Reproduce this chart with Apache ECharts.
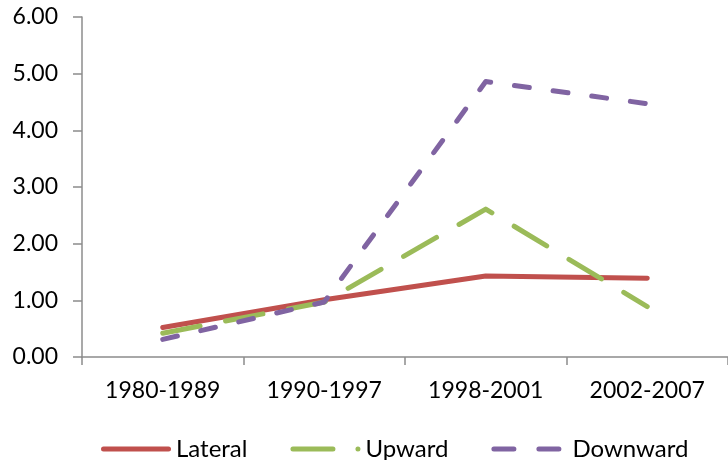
<!DOCTYPE html>
<html>
<head>
<meta charset="utf-8">
<script src="https://cdn.jsdelivr.net/npm/echarts@6/dist/echarts.min.js"></script>
<style>
  html, body { margin: 0; padding: 0; background: #ffffff; }
  #chart { width: 728px; height: 460px; }
</style>
</head>
<body>
<div id="chart"></div>
<script>
// Periods on the category axis
const periods = ['1980-1989', '1990-1997', '1998-2001', '2002-2007'];

// Values per mobility direction
const lateral  = [0.52, 1.01, 1.43, 1.39];
const upward   = [0.42, 0.97, 2.61, 0.89];
const downward = [0.31, 0.97, 4.86, 4.47];

// Value axis ticks
const yMin = 0;
const yMax = 6;
const yStep = 1;

const FONT = 'Lato';
const AXIS_GRAY = '#8c8c8c';

const COLORS = {
  Lateral: '#c0504d',
  Upward: '#9bbb59',
  Downward: '#8064a2'
};

// Legend keys drawn as filled shapes in a 70x5 box: solid bar, long dash + dot, two short dashes
const ICON_SOLID = 'path://M2.5,0H67.5A2.5,2.5 0 0 1 67.5,5H2.5A2.5,2.5 0 0 1 2.5,0Z';
const ICON_LONGDASH_DOT = 'path://M2.5,0H42.5A2.5,2.5 0 0 1 42.5,5H2.5A2.5,2.5 0 0 1 2.5,0Z' +
  'M67.5,0A2.5,2.5 0 0 1 67.5,5A2.5,2.5 0 0 1 67.5,0Z';
const ICON_DASHES = 'path://M2.5,0H22.5A2.5,2.5 0 0 1 22.5,5H2.5A2.5,2.5 0 0 1 2.5,0Z' +
  'M47.5,0H67.5A2.5,2.5 0 0 1 67.5,5H47.5A2.5,2.5 0 0 1 47.5,0Z';

const chart = echarts.init(document.getElementById('chart'), null, { renderer: 'canvas' });

function lineSeries(name, data, dash) {
  const color = COLORS[name];
  return {
    name: name,
    type: 'line',
    data: data,
    symbol: 'none',
    showSymbol: false,
    smooth: false,
    lineStyle: {
      color: color,
      width: 5,
      type: dash,
      cap: 'round',
      join: 'round'
    },
    itemStyle: { color: color },
    emphasis: { disabled: true }
  };
}

chart.setOption({
  animation: false,
  backgroundColor: '#ffffff',
  textStyle: { fontFamily: FONT },
  grid: {
    left: 82,
    top: 17,
    width: 654,
    height: 340,
    containLabel: false
  },
  legend: {
    left: 96,
    top: 432,
    itemWidth: 70,
    itemHeight: 5,
    itemGap: 43,
    textStyle: { fontFamily: FONT, fontSize: 24, color: '#000000' },
    data: [
      { name: 'Lateral', icon: ICON_SOLID, itemStyle: { color: COLORS.Lateral } },
      { name: 'Upward', icon: ICON_LONGDASH_DOT, itemStyle: { color: COLORS.Upward } },
      { name: 'Downward', icon: ICON_DASHES, itemStyle: { color: COLORS.Downward },
        textStyle: { padding: [0, 0, 0, 6] } }
    ]
  },
  xAxis: {
    type: 'category',
    data: periods,
    boundaryGap: true,
    axisLine: { show: true, lineStyle: { color: AXIS_GRAY, width: 1.5 } },
    axisTick: { show: true, length: 8, alignWithLabel: false, lineStyle: { color: AXIS_GRAY, width: 1.5 } },
    axisLabel: { color: '#000000', fontFamily: FONT, fontSize: 23, margin: 22 },
    splitLine: { show: false }
  },
  yAxis: {
    type: 'value',
    min: yMin,
    max: yMax,
    interval: yStep,
    axisLine: { show: true, lineStyle: { color: AXIS_GRAY, width: 1.5 } },
    axisTick: { show: true, length: 9, lineStyle: { color: AXIS_GRAY, width: 1.5 } },
    axisLabel: {
      color: '#000000',
      fontFamily: FONT,
      fontSize: 23,
      margin: 24,
      formatter: v => v.toFixed(2)
    },
    splitLine: { show: false }
  },
  series: [
    lineSeries('Lateral', lateral, 'solid'),
    lineSeries('Upward', upward, [38, 26]),
    lineSeries('Downward', downward, [15, 24])
  ]
});
</script>
</body>
</html>
